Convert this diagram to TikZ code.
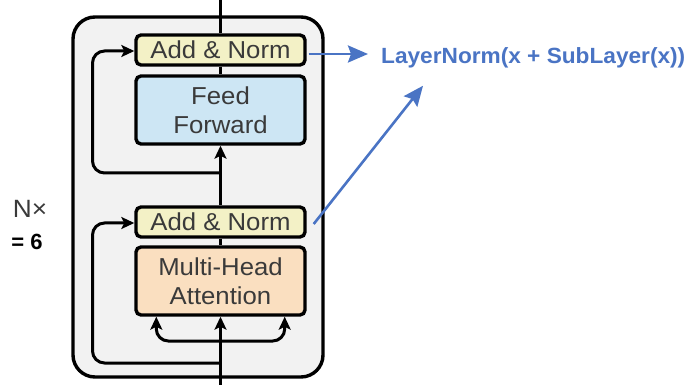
\documentclass[tikz,border=0pt]{standalone}
\usepackage{fontspec}
\setmainfont{Liberation Sans}
\newfontfamily\boxfont[FakeStretch=1.05]{Liberation Sans}
\newfontfamily\eqfont[FakeStretch=1.03]{Liberation Sans Bold}
\usetikzlibrary{arrows.meta,calc}

\definecolor{layerbg}{HTML}{F2F2F2}
\definecolor{normfill}{HTML}{F3F1C6}
\definecolor{fffill}{HTML}{CDE6F4}
\definecolor{attfill}{HTML}{FADFC0}
\definecolor{boxtext}{HTML}{3A3A3A}
\definecolor{eqblue}{HTML}{4A74C4}

\tikzset{
  block/.style={draw=black, line width=3.4pt, rounded corners=5pt,
    minimum width=169pt, inner sep=0pt, align=center, text=boxtext,
    font=\boxfont\fontsize{24.5}{29}\selectfont},
  addnorm/.style={block, fill=normfill, minimum height=30pt},
  sublayer/.style={block, minimum height=68pt},
  flow/.style={line width=3pt, black},
  flowarr/.style={flow, -{Stealth[length=13pt,width=12pt,inset=3pt]}},
  bluearr/.style={line width=2.6pt, eqblue,
    -{Stealth[length=20pt,width=17pt,inset=3pt]}},
}

\begin{document}
\begin{tikzpicture}[x=1pt,y=-1pt]
  \useasboundingbox (0,0) rectangle (689,385);

  % encoder layer frame
  \draw[line width=3.4pt, fill=layerbg, rounded corners=22pt] (73,17) rectangle (323,377);

  % sub-layers
  \node[addnorm] (an2) at (220.5,50) {Add \& Norm};
  \node[sublayer, fill=fffill] (ff) at (220.5,110) {Feed\\Forward};
  \node[addnorm] (an1) at (220.5,222) {Add \& Norm};
  \node[sublayer, fill=attfill] (mha) at (220.5,281) {Multi-Head\\Attention};

  % ends of the main data path
  \coordinate (top) at (220.5,0);
  \coordinate (bot) at (220.5,385);
  \coordinate (res2) at (220.5,173);
  \coordinate (res1) at (220.5,363);
  \coordinate (split) at (220.5,341);

  % main path
  \draw[flow] (top) -- (an2.north);
  \draw[flow] (an2.south) -- (ff.north);
  \draw[flowarr] (an1.north) -- (ff.south);
  \draw[flow] (an1.south) -- (mha.north);
  \draw[flowarr] (bot) -- (mha.south);

  % residual connections
  \draw[flowarr, rounded corners=12pt] (res2) -- ++(-128,0) |- ([yshift=-1pt]an2.west);
  \draw[flowarr, rounded corners=12pt] (res1) -- ++(-128,0) |- ([yshift=-1pt]an1.west);

  % query / key / value inputs
  \draw[flowarr, rounded corners=12pt] (split) -| ([xshift=22pt]mha.south west);
  \draw[flowarr, rounded corners=12pt] (split) -| ([xshift=-22pt]mha.south east);

  % repetition count
  \node[text=boxtext, font=\boxfont\fontsize{25}{28}\selectfont] (nx) at (30,209) {N×};
  \node[text=black, font=\bfseries\fontsize{22}{24}\selectfont] (n6) at (27,242) {= 6};

  % formula of each sub-layer output
  \node[anchor=base west, inner sep=0pt, text=eqblue,
        font=\eqfont\fontsize{22}{26}\selectfont] (eq) at (381,64)
        {LayerNorm(x + SubLayer(x))};
  \path ([xshift=-13pt]eq.west) coordinate (eqin);
  \draw[bluearr] ([xshift=2pt,yshift=-4pt]an2.east) -- ([yshift=-4pt]an2.east -| eqin);
  \draw[bluearr] ([xshift=7pt,yshift=-2pt]an1.east) -- ([xshift=42pt,yshift=-17pt]eq.south west);
\end{tikzpicture}
\end{document}
